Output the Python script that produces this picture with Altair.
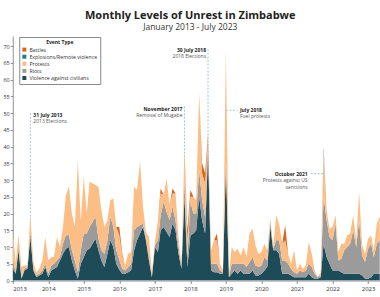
import altair as alt
import pandas as pd

# ---------------- data ----------------
months = pd.date_range("2013-01-01", "2023-07-01", freq="MS").strftime("%Y-%m-%d").tolist()

types = ["Battles", "Explosions/Remote violence", "Protests", "Riots", "Violence against civilians"]
colors = ["#d8661c", "#1e7d92", "#fdbe85", "#9b9b9b", "#1d4b58"]
stack_rank = {"Violence against civilians": 0, "Riots": 1, "Protests": 2,
              "Explosions/Remote violence": 3, "Battles": 4}

vac = [3.5, 2, 9, 0.5, 3, 3.5, 13, 3, 1, 1.5, 2, 4,
       1, 3, 3.5, 4, 6, 8, 9.5, 10, 6, 3, 0.5, 5,
       7, 9, 9.5, 11, 12.5, 9, 6, 4, 8, 12, 10, 5,
       3.2, 2, 2, 2.5, 3, 9, 12, 14, 16, 12, 6, 1,
       10, 8.5, 15, 16, 14.5, 13, 17, 15, 8, 3.5, 25, 4,
       13.5, 14, 15, 25, 18, 14, 38, 3, 2.5, 2.5, 2, 2,
       34, 1, 2, 3, 2, 3, 2, 2, 2, 3, 1.5, 1.5,
       2, 3, 4, 16, 9, 9, 8, 2, 2, 2, 1.5, 1,
       1, 1, 1, 1, 2, 1, 0.5, 0.5, 1, 11, 7, 5,
       3, 3, 3, 2.5, 2, 2, 2, 2, 2, 2, 1.5, 0.5,
       0.5, 1, 2, 2, 2, 2, 2]
riots = [2.5, 0.5, 1, 0.5, 0.5, 0.5, 1.5, 0.5, 0.5, 0.5, 1, 1,
         1, 1.5, 1.5, 2, 1, 3, 4, 3.5, 3, 3, 2, 4,
         7, 5, 6.5, 6.5, 6.5, 3.5, 3, 4, 4, 7, 6, 4,
         3, 1.5, 1, 1.5, 2, 6, 4, 2.5, 1, 0.5, 1, 0.5,
         0.5, 3.5, 4.5, 7.5, 6, 5, 5, 3, 2, 0.5, 4, 3,
         10, 6, 5, 8, 6, 5, 3, 2, 2.5, 2.5, 1, 0.5,
         2, 0, 3, 2, 3, 2, 3, 2, 3.5, 4, 3, 2.5,
         2.5, 4, 2, 1.5, 0.5, 3, 4, 4, 4, 3, 2, 1.5,
         1, 2, 1.5, 2, 3, 3, 1.5, 0.5, 0.5, 14, 11, 8,
         9, 14, 3, 4, 7, 8, 9, 13, 8, 16, 6, 5,
         9, 10, 5, 9, 10, 10, 8]
protests = [8.5, 3, 3.5, 3, 1, 0.5, 5, 2, 1, 1.5, 3, 8,
            4, 2.5, 2, 7, 3, 5, 12, 14.5, 11, 9, 33.5, 8,
            17, 6, 13.5, 11.5, 9.5, 15.5, 12, 8, 6, 5, 8.5, 7,
            7.3, 4, 1.5, 4, 3.5, 13, 11, 19, 5, 2, 6, 1,
            1, 6, 6.5, 2, 10, 4.5, 4, 8, 3, 0.5, 10.5, 5,
            1.5, 5, 4, 23, 8, 10, 1.5, 4, 7, 7, 2, 0.5,
            33, 1, 5, 3.5, 4.5, 2.5, 5, 3, 8.5, 8.5, 6, 4,
            4, 4, 3, 1, 0.5, 7.5, 5, 5, 6, 3, 1.5, 6.5,
            1, 2, 1, 1.5, 6.5, 4, 1, 0, 1, 13.5, 3, 2.5,
            4, 2.5, 2.5, 4.5, 2, 3.5, 3, 4.5, 2, 8.5, 3, 2.5,
            3, 2.5, 2, 6, 7, 8, 7]
battles = [0, 0, 0, 0, 0, 0, 0, 0, 0, 0, 0, 0,
           0, 0, 0, 0, 0, 0, 0, 0, 0, 0.5, 0, 0.5,
           0, 0, 0, 0, 0, 0, 0, 0, 0, 0, 0, 0,
           2.5, 0.5, 0, 0, 0, 0, 0, 0, 0, 0, 0, 0,
           0, 0, 1.5, 0, 0, 0, 1.5, 0, 0, 0, 0, 3,
           2, 0, 0, 0, 3, 3, 1, 0, 0, 2, 0, 0,
           0, 0, 0, 0, 0, 0, 0, 0, 0, 0, 0, 0,
           0, 0, 0, 0, 0, 0, 0, 0, 4.5, 0, 0, 0,
           0, 0, 0, 0, 0, 0, 0, 0, 0, 0, 0, 0,
           0, 0, 0, 0, 0, 0, 0, 0, 0, 0, 0, 0,
           0, 0, 0, 0, 0, 0, 0]
explosions = [0] * 105 + [1.2] + [0] * 21

series = {"Violence against civilians": vac, "Riots": riots, "Protests": protests,
          "Battles": battles, "Explosions/Remote violence": explosions}

rows = []
for t, vals in series.items():
    for d, v in zip(months, vals):
        rows.append({"date": d, "type": t, "value": v, "rank": stack_rank[t]})
df = pd.DataFrame(rows)

# annotations
vline_dates = ["2013-07-01", "2017-11-01", "2018-07-01"]
vline_tops = [50, 52, 69]
hline_starts = ["2019-01-01", "2021-05-20"]
hline_ends = ["2019-05-01", "2021-10-01"]
hline_vals = [50.8, 31.9]

ann_dates = ["2013-07-01", "2017-11-01", "2018-07-01", "2019-01-01", "2021-10-01"]
ann_heads = ["31 July 2013", "November 2017", "30 July 2018", "July 2018", "October 2021"]
ann_subs = ["2013 Elections", "Removal of Mugabe", "2018 Elections", "Fuel protests",
            "Protests against US\nsanctions"]
ann_y = [49.4, 51.3, 68.8, 50.8, 31.9]
ann_align = ["left", "right", "right", "left", "right"]
ann_dx = [3, -2, -2, 14, -16]

FONT = "Open Sans"
xscale = alt.Scale(domain=[alt.DateTime(year=2013, month=1, date=1, utc=True),
                           alt.DateTime(year=2023, month=5, date=1, utc=True)])
yscale = alt.Scale(domain=[0, 73], nice=False)

area = alt.Chart(df).mark_area(clip=True, interpolate="linear").encode(
    x=alt.X("date:T", scale=xscale, title=None),
    y=alt.Y("value:Q", stack="zero", title=None, scale=yscale),
    color=alt.Color("type:N", scale=alt.Scale(domain=types, range=colors),
                    legend=alt.Legend(title="Event Type", orient="none", legendX=6.5, legendY=1,
                                      titleFontSize=5, titleFontWeight="bold", titleAnchor="middle",
                                      titleFont=FONT, labelFont=FONT, labelFontSize=5.2,
                                      symbolType="square", symbolSize=16, symbolStrokeWidth=0,
                                      rowPadding=1.1, titlePadding=2.5, padding=2.5,
                                      labelOffset=2.5,
                                      fillColor="white", strokeColor="#888",
                                      labelColor="#333", titleColor="#222")),
    order=alt.Order("rank:Q", sort="ascending"),
)

vdf = pd.DataFrame({"date": vline_dates, "top": vline_tops})
vrules = alt.Chart(vdf).mark_rule(color="#8db7cf", strokeDash=[2, 1.5], strokeWidth=0.8).encode(
    x=alt.X("date:T", title=None),
    y=alt.Y("top:Q", title=None),
    y2=alt.datum(0))

hdf = pd.DataFrame({"start": hline_starts, "end": hline_ends, "v": hline_vals})
hrules = alt.Chart(hdf).mark_rule(color="#8db7cf", strokeDash=[2, 1.5], strokeWidth=0.8).encode(
    x=alt.X("start:T", title=None), x2="end:T", y=alt.Y("v:Q", title=None))

adf = pd.DataFrame({"date": ann_dates, "head": ann_heads, "sub": ann_subs, "y": ann_y})

texts = []
for i in range(len(ann_dates)):
    one = adf.iloc[[i]]
    head = alt.Chart(one).mark_text(align=ann_align[i], baseline="middle", dx=ann_dx[i],
                                    fontSize=5, fontWeight="bold", font=FONT, color="#222").encode(
        x=alt.X("date:T", title=None), y=alt.Y("y:Q", title=None), text="head:N")
    sub = alt.Chart(one).mark_text(align=ann_align[i], baseline="top", dx=ann_dx[i], dy=4,
                                   fontSize=5, font=FONT, color="#555", lineBreak="\n",
                                   lineHeight=7).encode(
        x=alt.X("date:T", title=None), y=alt.Y("y:Q", title=None), text="sub:N")
    texts += [head, sub]

chart = alt.layer(vrules, area, hrules, *texts).properties(
    width=367, height=244.5,
    title=alt.TitleParams("Monthly Levels of Unrest in Zimbabwe",
                          subtitle="January 2013 - July 2023",
                          font=FONT, subtitleFont=FONT, fontSize=11, subtitleFontSize=8.5,
                          fontWeight="bold", color="#222", subtitleColor="#333",
                          anchor="middle", dx=-6, offset=5, subtitlePadding=2),
    padding={"left": 12.75, "top": 36, "right": 0, "bottom": 16.5},
    autosize="none",
).configure_view(stroke=None).configure_axis(
    grid=False, labelFont=FONT, labelColor="#333", domainColor="#777", tickColor="#777",
    domainWidth=0.8, tickWidth=0.8, labelOverlap=False
).configure_axisY(
    labelFontSize=5.5, tickSize=2.5, labelPadding=1, tickCount=15
).configure_axisX(
    labelFontSize=6, tickSize=3, labelPadding=2, format="%Y", tickCount=11
)

chart.save("out.html", embed_options={"renderer": "svg", "actions": False})
